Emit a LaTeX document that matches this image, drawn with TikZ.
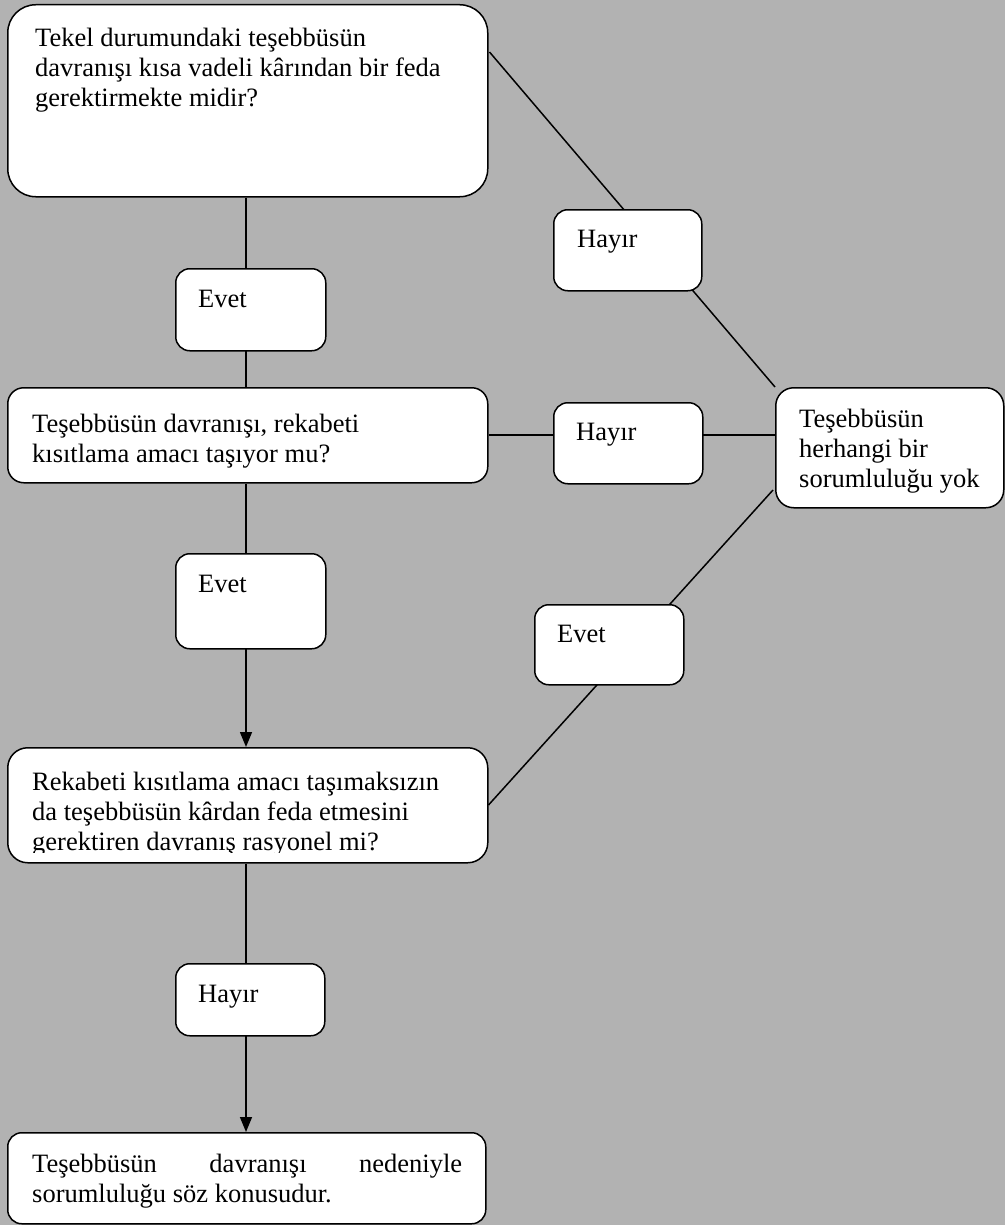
\documentclass[tikz,border=0pt]{standalone}
\usepackage{fontspec}
\setmainfont{Liberation Serif}
\usetikzlibrary{arrows.meta,calc}
\pgfdeclarelayer{bg}
\pgfdeclarelayer{wires}
\pgfsetlayers{bg,wires,main}
\definecolor{dotgray}{gray}{0.70}
\tikzset{
  box/.style={draw, fill=white, line width=1.5pt, rounded corners=14pt,
    inner sep=0pt, anchor=north west},
  lbl/.style={inner sep=0pt, anchor=base west,
    font=\fontsize{26.5pt}{30pt}\selectfont},
  wire/.style={line width=1.5pt},
  flow/.style={wire, -{Triangle[width=12pt,length=15pt]}},
}
\begin{document}
\begin{tikzpicture}[x=1pt,y=-1pt]
  \begin{pgfonlayer}{bg}
    \fill[dotgray] (0,0) rectangle (1005,1225);
  \end{pgfonlayer}
  \useasboundingbox (0,0) rectangle (1005,1225);
  \coordinate (spine) at (246,0);

  % question boxes on the left column
  \node[box, rounded corners=28pt, minimum width=480pt, minimum height=192pt] (q1) at (7,4) {};
  \node[box, rounded corners=16pt, minimum width=480pt, minimum height=95pt] (q2) at (7,387) {};
  \node[box, rounded corners=20pt, minimum width=480pt, minimum height=115pt] (q3) at (7,747) {};
  \node[box, minimum width=478pt, minimum height=91pt] (q4) at (7,1132) {};
  % outcome box on the right
  \node[box, rounded corners=18pt, minimum width=228pt, minimum height=120pt] (r1) at (775,387) {};
  % answer labels
  \node[box, minimum width=148pt, minimum height=81pt] (h1) at (553,209) {};
  \node[box, minimum width=150pt, minimum height=82pt] (e1) at (175,268) {};
  \node[box, minimum width=149pt, minimum height=81pt] (h2) at (553,402) {};
  \node[box, minimum width=150pt, minimum height=95pt] (e2) at (175,553) {};
  \node[box, minimum width=149pt, minimum height=80pt] (e3) at (534,604) {};
  \node[box, minimum width=149pt, minimum height=72pt] (h3) at (175,963) {};

  % texts
  \node[lbl] (q1t) at (35,47) {\parbox[t]{440pt}{Tekel durumundaki teşebbüsün\\davranışı kısa vadeli kârından bir feda\\gerektirmekte midir?}};
  \node[lbl] (q2t) at (32,432) {\parbox[t]{440pt}{Teşebbüsün davranışı, rekabeti\\kısıtlama amacı taşıyor mu?}};
  \begin{scope}
    \clip (q3.north west) rectangle ($(q3.south east)+(0,-11)$);
    \node[lbl] (q3t) at (32,790) {\parbox[t]{440pt}{Rekabeti kısıtlama amacı taşımaksızın\\da teşebbüsün kârdan feda etmesini\\gerektiren davranış rasyonel mi?}};
  \end{scope}
  \node[lbl] (q4t) at (32,1172) {\parbox[t]{430pt}{Teşebbüsün\hfill davranışı\hfill nedeniyle\\sorumluluğu söz konusudur.}};
  \node[lbl] (r1t) at (799,427) {\parbox[t]{200pt}{Teşebbüsün\\herhangi bir\\sorumluluğu yok}};
  \node[lbl] (h1t) at (577,247) {Hayır};
  \node[lbl] (e1t) at (198,307) {Evet};
  \node[lbl] (h2t) at (576,440) {Hayır};
  \node[lbl] (e2t) at (198,592) {Evet};
  \node[lbl] (e3t) at (557,642) {Evet};
  \node[lbl] (h3t) at (198,1002) {Hayır};

  % connectors, running behind the answer labels
  \begin{pgfonlayer}{wires}
    \draw[wire] (q1.south -| spine) -- (q2.north -| spine);
    \draw[flow] (q2.south -| spine) -- (q3.north -| spine);
    \draw[flow] (q3.south -| spine) -- (q4.north -| spine);
    \draw[wire] ($(q1.north east)+(1,48)$) -- (r1.north west);
    \draw[wire] ($(q2.north east)+(0,48)$) -- ($(r1.north west)+(0,48)$);
    \draw[wire] ($(q3.north east)+(0,58)$) -- ($(r1.north west)+(-2,103)$);
  \end{pgfonlayer}
\end{tikzpicture}
\end{document}
